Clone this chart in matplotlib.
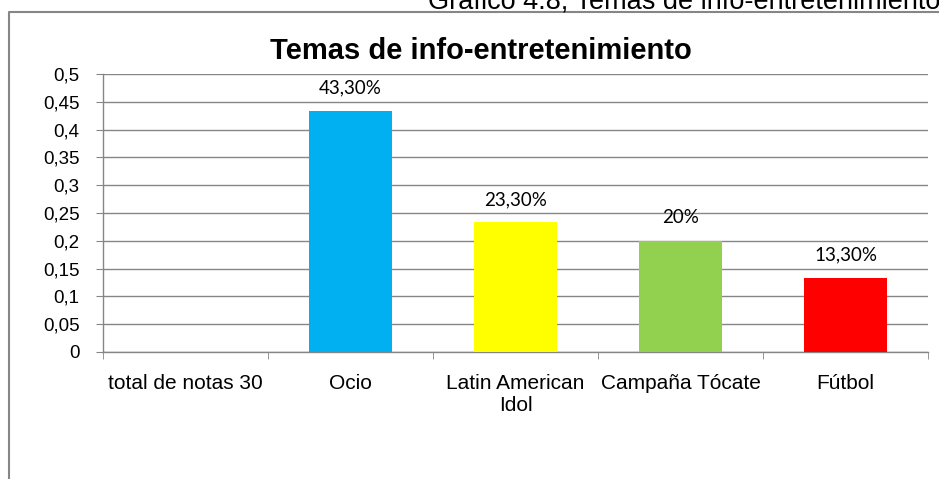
import matplotlib
matplotlib.use("Agg")
import matplotlib.pyplot as plt
from matplotlib.lines import Line2D

categories = ["total de notas 30", "Ocio", "Latin American\nIdol", "Campaña Tócate", "Fútbol"]
values = [0.0, 0.433, 0.233, 0.20, 0.133]
bar_labels = ["", "43,30%", "23,30%", "20%", "13,30%"]
colors = ["#4F81BD", "#00B0F0", "#FFFF00", "#92D050", "#FF0000"]
yticks = [0, 0.05, 0.1, 0.15, 0.2, 0.25, 0.3, 0.35, 0.4, 0.45, 0.5]
ytick_labels = ["0", "0,05", "0,1", "0,15", "0,2", "0,25", "0,3", "0,35", "0,4", "0,45", "0,5"]

W, H = 939, 479
fig = plt.figure(figsize=(W / 100, H / 100), dpi=100)
plt.rcParams['font.family'] = ['Liberation Sans', 'DejaVu Sans']

ax = fig.add_axes([103 / W, (H - 352) / H, (928 - 103) / W, (352 - 74) / H])
x = list(range(len(categories)))
ax.bar(x, values, width=0.5, color=colors, zorder=3)
ax.set_xlim(-0.5, len(categories) - 0.5)
ax.set_ylim(0, 0.5)
ax.set_yticks(yticks)
ax.set_yticklabels(ytick_labels, fontsize=13.5)
ax.set_xticks(x)
ax.set_xticklabels(categories, fontsize=15, linespacing=1.2)
ax.tick_params(axis='x', length=0, pad=16)
ax.set_xticks([i - 0.5 for i in range(len(categories) + 1)], minor=True)
ax.tick_params(axis='x', which='minor', length=5, color='#868686', direction='out')
ax.tick_params(axis='y', length=5, color='#868686', direction='out', pad=12)
ax.yaxis.grid(True, color='#868686', linewidth=1.0, zorder=0)
for s in ['top', 'right']:
    ax.spines[s].set_visible(False)
for s in ['left', 'bottom']:
    ax.spines[s].set_color('#868686')
    ax.spines[s].set_linewidth(1.0)

for xi, v, lab in zip(x, values, bar_labels):
    if lab:
        ax.annotate(lab, (xi, v), xytext=(0, 16.5), textcoords='offset points',
                    ha='center', va='center', fontsize=13.5, family=['Lato', 'DejaVu Sans'])

fig.text((268 + 694) / 2 / W, 1 - 51 / H, "Temas de info-entretenimiento",
         ha='center', va='center', fontsize=21, fontweight='bold')
fig.text(940 / W, 1 - 8 / H, "Gráfico 4.8; Temas de info-entretenimiento",
         ha='right', va='baseline', fontsize=19.5)

fig.add_artist(Line2D([9 / W, 9 / W, 1.0], [0, 1 - 11.5 / H, 1 - 11.5 / H],
                      transform=fig.transFigure, color='#868686', linewidth=1.5))

fig.savefig("out.png", dpi=100)
